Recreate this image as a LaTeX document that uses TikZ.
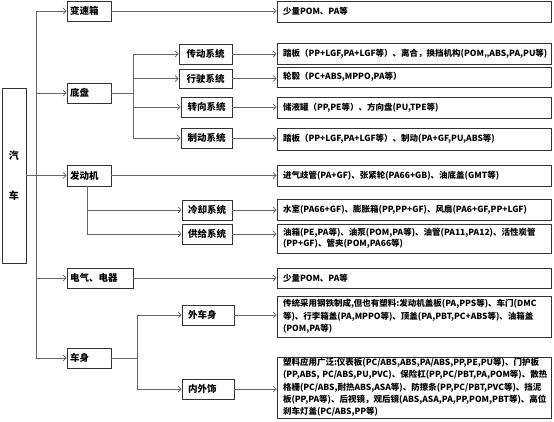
\documentclass[tikz,border=0pt]{standalone}
\usepackage{fontspec}
\setmainfont{Noto Sans CJK SC}
\usetikzlibrary{arrows.meta}
\begin{document}
\begin{tikzpicture}[x=1pt,y=-1pt,
  lbl/.style={draw=black!80, line width=0.7pt, fill=white, font=\fontsize{9.5}{11}\selectfont\bfseries, inner sep=0pt, minimum height=20pt},
  lone/.style={lbl, minimum width=44pt, text width=38pt, align=left},
  ltwo/.style={lbl, minimum width=52pt, text width=52pt, align=center},
  det/.style={draw=black!80, line width=0.7pt, font=\fontsize{8.5}{12.3}\selectfont\bfseries, minimum width=274pt, text width=262pt, align=left, inner xsep=6pt, inner ysep=0pt},
  conn/.style={draw=black!60, line width=0.8pt},
  arr/.style={conn, -{Straight Barb[length=3pt,width=6pt]}}
]
\useasboundingbox (0,0) rectangle (554,422);
% root
\node[draw=black!80, line width=0.7pt, minimum width=24pt, minimum height=175pt, inner sep=0pt, align=center, font=\fontsize{10}{11}\selectfont\bfseries] (root) at (14,175.5) {汽\\[29pt]车};
% level 1
\node[lone] (gear) at (89,11) {变速箱};
\node[lone] (chassis) at (89,93) {底盘};
\node[lone, minimum height=21pt] (engine) at (89,175.5) {发动机};
\node[lbl, minimum width=66pt, text width=60pt, align=left] (elec) at (100,278) {电气、电器};
\node[lone] (body) at (89,358) {车身};
% level 2
\node[ltwo, minimum width=53pt, text width=53pt] (trans) at (205.5,54) {传动系统};
\node[ltwo, minimum width=53pt, text width=53pt, minimum height=19pt] (drive) at (205.5,78.5) {行驶系统};
\node[ltwo, minimum width=51pt, text width=51pt] (steer) at (206.5,107) {转向系统};
\node[ltwo, minimum width=51pt, text width=51pt] (brake) at (206.5,138) {制动系统};
\node[ltwo, minimum width=50pt, text width=50pt] (cool) at (207,210) {冷却系统};
\node[ltwo, minimum width=50pt, text width=50pt] (supply) at (207,234) {供给系统};
\node[lbl, minimum width=52pt, text width=40pt, align=left] (exter) at (208,315) {外车身};
\node[lbl, minimum width=52pt, text width=40pt, align=left] (inter) at (208,389) {内外饰};
% details
\node[det, minimum height=21pt] (dgear) at (414,11.5) {少量POM、PA等};
\node[det, minimum height=21pt] (dtrans) at (414,53.5) {踏板（PP+LGF,PA+LGF等）、离合，换挡机构(POM,,ABS,PA,PU等)};
\node[det, minimum height=20pt] (ddrive) at (414,77) {轮毂（PC+ABS,MPPO,PA等）};
\node[det, minimum height=21pt] (dsteer) at (414,107.5) {储液罐（PP,PE等）、方向盘(PU,TPE等)};
\node[det, minimum height=22pt] (dbrake) at (414,139) {踏板（PP+LGF,PA+LGF等）、制动(PA+GF,PU,ABS等)};
\node[det, minimum height=21pt] (dengine) at (414,175.5) {进气歧管(PA+GF)、张紧轮(PA66+GB)、油底盖(GMT等)};
\node[det, minimum height=21pt] (dcool) at (414,209.5) {水室(PA66+GF)、膨胀箱(PP,PP+GF)、风扇(PA6+GF,PP+LGF)};
\node[det, minimum height=29pt, font=\fontsize{8.5}{10.5}\selectfont\bfseries] (dsupply) at (414,238.5) {油箱(PE,PA等)、油泵(POM,PA等)、油管(PA11,PA12)、活性炭管\\(PP+GF)、管夹(POM,PA66等)};
\node[det, minimum height=20pt] (delec) at (414,278) {少量POM、PA等};
\node[det, minimum height=41pt] (dexter) at (414,316.5) {传统采用钢铁制成,但也有塑料:发动机盖板(PA,PPS等)、车门(DMC\\等)、行李箱盖(PA,MPPO等)、顶盖(PA,PBT,PC+ABS等)、油箱盖\\(POM,PA等)};
\node[det, minimum height=61pt] (dinter) at (414,387.5) {塑料应用广泛:仪表板(PC/ABS,ABS,PA/ABS,PP,PE,PU等)、门护板\\(PP,ABS, PC/ABS,PU,PVC)、保险杠(PP,PC/PBT,PA,POM等)、散热\\格栅(PC/ABS,耐热ABS,ASA等)、防擦条(PP,PC/PBT,PVC等)、挡泥\\板(PP,PA等)、后视镜，观后镜(ABS,ASA,PA,PP,POM,PBT等)、高位\\刹车灯盖(PC/ABS,PP等)};
% trunk
\coordinate (tx) at (36,0);
\draw[conn] (gear.west -| tx) -- (body.west -| tx);
\draw[conn] (root.east) -- (root.east -| tx);
\foreach \n in {gear,chassis,engine,elec,body}
  \draw[arr] (\n.west -| tx) -- (\n.west);
% chassis branch
\coordinate (cx) at (133,0);
\draw[conn] (chassis.east) -- (chassis.east -| cx);
\draw[conn] (trans.west -| cx) -- (brake.west -| cx);
\foreach \n in {trans,drive,steer,brake}
  \draw[arr] (\n.west -| cx) -- (\n.west);
% engine branch
\coordinate (ex) at (87,0);
\draw[conn] (engine.south -| ex) -- (supply.west -| ex);
\foreach \n in {cool,supply}
  \draw[arr] (\n.west -| ex) -- (\n.west);
% body branch
\coordinate (bx) at (137,0);
\draw[conn] (body.east) -- (body.east -| bx);
\draw[conn] (exter.west -| bx) -- (inter.west -| bx);
\foreach \n in {exter,inter}
  \draw[arr] (\n.west -| bx) -- (\n.west);
% to details
\draw[arr] (gear.east) -- (gear.east -| dgear.west);
\draw[arr] (trans.east) -- (trans.east -| dtrans.west);
\draw[arr] (drive.east) -- (drive.east -| ddrive.west);
\draw[arr] (steer.east) -- (steer.east -| dsteer.west);
\draw[arr] (brake.east) -- (brake.east -| dbrake.west);
\draw[arr] (engine.east) -- (engine.east -| dengine.west);
\draw[arr] (cool.east) -- (cool.east -| dcool.west);
\draw[arr] (supply.east) -- (supply.east -| dsupply.west);
\draw[arr] (elec.east) -- (elec.east -| delec.west);
\draw[arr] (exter.east) -- (exter.east -| dexter.west);
\draw[arr] (inter.east) -- (inter.east -| dinter.west);
\end{tikzpicture}
\end{document}
